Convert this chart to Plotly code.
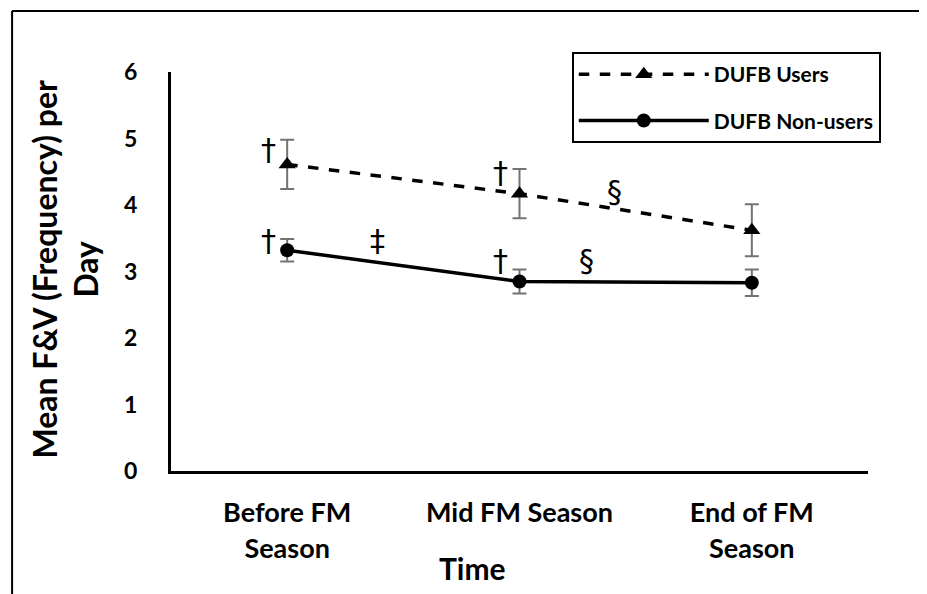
import plotly.graph_objects as go

categories = ["Before FM<br>Season", "Mid FM Season", "End of FM<br>Season"]
users_mean = [4.61, 4.17, 3.62]
users_err = [0.37, 0.37, 0.39]
nonusers_mean = [3.32, 2.85, 2.83]
nonusers_err = [0.17, 0.18, 0.20]
y_ticks = [0, 1, 2, 3, 4, 5, 6]

# significance marks: (x position in category units, y value, symbol)
marks_x = [-0.08, -0.08, 0.39, 0.92, 0.92, 1.41, 1.29]
marks_y = [4.84, 3.47, 3.47, 4.49, 3.16, 4.2, 3.16]
marks_txt = ["†", "†", "‡", "†", "†", "§", "§"]

FONT = "Lato"
xi = list(range(len(categories)))

fig = go.Figure()
fig.add_trace(go.Scatter(
    x=xi, y=users_mean, name="DUFB Users", mode="lines+markers", legendgroup="u",
    line=dict(color="black", width=3.5, dash="dash"),
    marker=dict(symbol="triangle-up", size=15, color="black"),
    error_y=dict(type="data", array=users_err, color="#737373", thickness=2, width=7),
))
fig.add_trace(go.Scatter(
    x=xi, y=nonusers_mean, name="DUFB Non-users", mode="lines+markers", legendgroup="n",
    line=dict(color="black", width=3.5),
    marker=dict(symbol="circle", size=14, color="black"),
    error_y=dict(type="data", array=nonusers_err, color="#737373", thickness=2, width=7),
))

annotations = []
for mx, my, mt in zip(marks_x, marks_y, marks_txt):
    annotations.append(dict(x=mx, y=my, xref="x", yref="y", text=mt, showarrow=False,
                            xanchor="center", yanchor="middle",
                            font=dict(family="DejaVu Sans", size=30, color="black")))
annotations.append(dict(x=-0.152, y=0.505, xref="paper", yref="paper",
                        xanchor="center", yanchor="middle",
                        text="<b>Mean F&V (Frequency) per<br>Day</b>", textangle=-90,
                        showarrow=False, font=dict(family=FONT, size=32, color="black")))
annotations.append(dict(x=0.433, y=-0.243, xref="paper", yref="paper",
                        xanchor="center", yanchor="middle", text="<b>Time</b>",
                        showarrow=False, font=dict(family=FONT, size=30, color="black")))

fig.update_layout(
    width=927, height=594,
    margin=dict(l=163, r=67, t=64, b=131),
    paper_bgcolor="white", plot_bgcolor="white",
    font=dict(family=FONT, color="black"),
    showlegend=True,
    legend=dict(x=0.575, y=1.05, xanchor="left", yanchor="top",
                bordercolor="black", borderwidth=2, bgcolor="white",
                font=dict(family=FONT, size=21, color="black", weight="bold"),
                itemwidth=130, traceorder="grouped", tracegroupgap=16),
    annotations=annotations,
    shapes=[
        dict(type="line", xref="paper", yref="paper", x0=-0.228, x1=1.1, y0=1.153, y1=1.153,
             line=dict(color="black", width=2)),
        dict(type="line", xref="paper", yref="paper", x0=-0.228, x1=-0.228, y0=1.153, y1=-0.32,
             line=dict(color="black", width=2)),
    ],
)
fig.update_xaxes(
    range=[-0.5, 2.5], tickvals=xi, ticktext=["<b>%s</b>" % c for c in categories],
    showline=True, linecolor="black", linewidth=3, showgrid=False, zeroline=False,
    ticks="", ticklabelstandoff=16, tickfont=dict(family=FONT, size=27, color="black"),
)
fig.update_yaxes(
    range=[0, 6], tickvals=y_ticks, ticktext=["<b>%d</b>" % v for v in y_ticks],
    showline=True, linecolor="black", linewidth=3, showgrid=False, zeroline=False,
    ticks="", ticklabelstandoff=26, tickfont=dict(family=FONT, size=23, color="black"),
)

fig.write_html("out.html")
